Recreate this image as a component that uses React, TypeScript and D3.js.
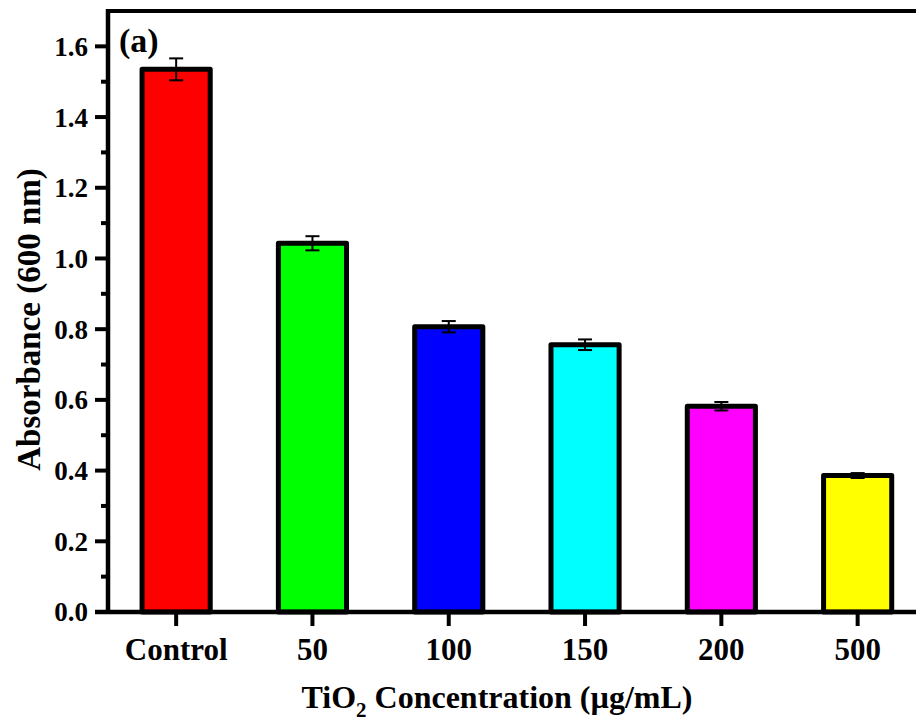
import React from "react";
import * as d3 from "d3";

const categories = ["Control", "50", "100", "150", "200", "500"];
const values = [1.535, 1.043, 0.807, 0.756, 0.582, 0.386];
const errors = [0.031, 0.02, 0.016, 0.015, 0.012, 0.007];
const colors = ["#ff0000", "#00ff00", "#0000ff", "#00ffff", "#ff00ff", "#ffff00"];
const majorTicks = [0, 0.2, 0.4, 0.6, 0.8, 1.0, 1.2, 1.4, 1.6];
const minorTicks = [0.1, 0.3, 0.5, 0.7, 0.9, 1.1, 1.3, 1.5];

export default function App() {
  const W = 916;
  const H = 724;
  const left = 108;
  const top = 11;
  const bottom = 612;
  const step = 136.3;

  const x = d3
    .scaleBand<string>()
    .domain(categories)
    .range([left, left + step * 6])
    .paddingInner(0.5)
    .paddingOuter(0.25);
  const y = d3.scaleLinear().domain([0, 1.7]).range([bottom, top]);
  const bw = x.bandwidth();
  const font = "'Liberation Serif', 'Times New Roman', serif";

  return (
    <svg
      width={W}
      height={H}
      style={{ position: "absolute", left: 0, top: 0, background: "#fff" }}
      fontFamily={font}
      fontWeight="bold"
    >
      {/* bars */}
      {categories.map((c, i) => (
        <rect
          key={c}
          x={x(c)}
          y={y(values[i])}
          width={bw}
          height={y(0) - y(values[i])}
          fill={colors[i]}
          stroke="#000"
          strokeWidth={5}
          strokeLinejoin="round"
        />
      ))}
      {/* error bars */}
      {categories.map((c, i) => {
        const cx = (x(c) as number) + bw / 2;
        const y1 = y(values[i] + errors[i]);
        const y2 = y(values[i] - errors[i]);
        return (
          <g key={"e" + c} stroke="#000" strokeWidth={2}>
            <line x1={cx} x2={cx} y1={y1} y2={y2} />
            <line x1={cx - 7} x2={cx + 7} y1={y1} y2={y1} />
            <line x1={cx - 7} x2={cx + 7} y1={y2} y2={y2} />
          </g>
        );
      })}
      {/* axes frame */}
      <line x1={left} x2={W} y1={top} y2={top} stroke="#000" strokeWidth={4} />
      <line x1={left} x2={left} y1={top - 2} y2={bottom + 2} stroke="#000" strokeWidth={4.5} />
      <line x1={left - 13} x2={W} y1={bottom} y2={bottom} stroke="#000" strokeWidth={4.5} />
      {/* y ticks */}
      {majorTicks.map((t) => (
        <g key={"yt" + t}>
          <line x1={left - 13} x2={left} y1={y(t)} y2={y(t)} stroke="#000" strokeWidth={4} />
          <text x={88} y={y(t)} dy="0.35em" textAnchor="end" fontSize={27}>
            {t.toFixed(1)}
          </text>
        </g>
      ))}
      {minorTicks.map((t) => (
        <line key={"ym" + t} x1={left - 7} x2={left} y1={y(t)} y2={y(t)} stroke="#000" strokeWidth={4} />
      ))}
      {/* x ticks */}
      {categories.map((c) => {
        const cx = (x(c) as number) + bw / 2;
        return (
          <g key={"xt" + c}>
            <line x1={cx} x2={cx} y1={bottom} y2={bottom + 14} stroke="#000" strokeWidth={4} />
            <text x={cx} y={660} textAnchor="middle" fontSize={31}>
              {c}
            </text>
          </g>
        );
      })}
      {/* axis titles */}
      <text x={497} y={708} textAnchor="middle" fontSize={32}>
        TiO<tspan fontSize={21} dy={9}>2</tspan>
        <tspan dy={-9}> Concentration (µg/mL)</tspan>
      </text>
      <text
        transform={`translate(40, ${(top + bottom) / 2 + 8}) rotate(-90)`}
        textAnchor="middle"
        fontSize={33}
      >
        Absorbance (600 nm)
      </text>
      <text x={119} y={52} fontSize={34}>
        (a)
      </text>
    </svg>
  );
}
